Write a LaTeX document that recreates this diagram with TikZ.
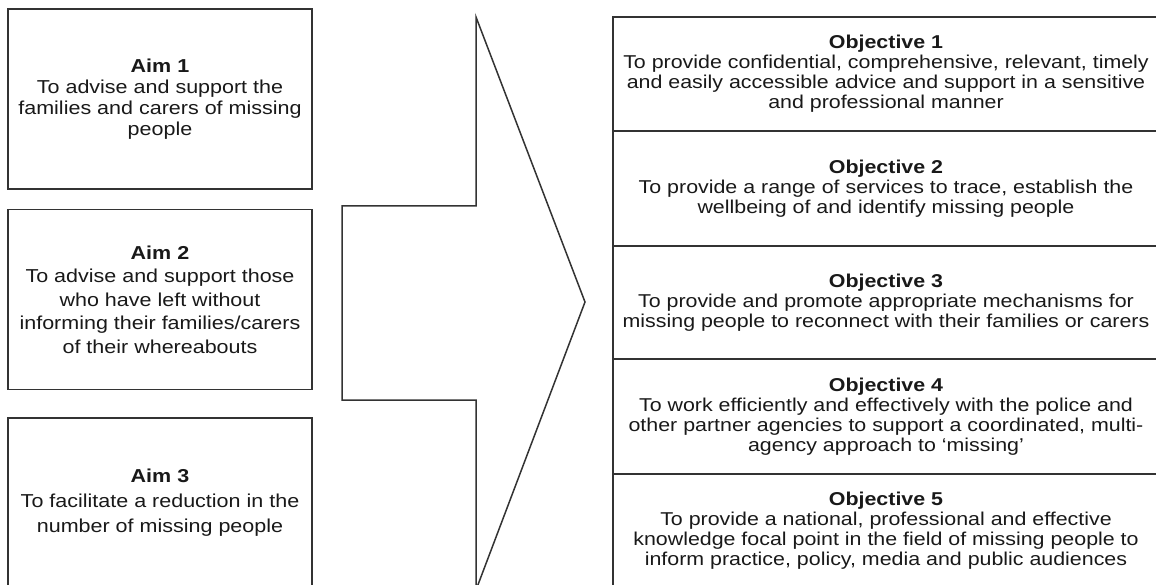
\documentclass[tikz,border=0pt]{standalone}
\usepackage{fontspec}
\setmainfont{Liberation Sans}[FakeStretch=1.15]
\begin{document}
\begin{tikzpicture}[x=1pt,y=-1pt,
  boxline/.style={draw=black!80, line width=1.5pt},
  aimbox/.style={boxline, rectangle, inner sep=0pt, minimum width=304pt, minimum height=180pt, align=center, text=black!90},
  objbox/.style={boxline, rectangle, inner sep=0pt, minimum width=546pt, align=center, text=black!90,
    font=\fontsize{18.6}{20}\selectfont},
  bigarrow/.style={boxline, line join=miter, fill=white}]
\useasboundingbox (0,0) rectangle (1156,585);
\clip (0,0) rectangle (1156,585);
\fill[white] (0,0) rectangle (1156,585);

% Aims
\node (aim1) [aimbox, font=\fontsize{18.7}{21}\selectfont] at (160,99)
  {\textbf{Aim 1}\\To advise and support the\\families and carers of missing\\people};
\node (aim2) [aimbox, font=\fontsize{18.7}{23.5}\selectfont] at (160,299.5)
  {\textbf{Aim 2}\\To advise and support those\\who have left without\\informing their families/carers\\of their whereabouts};
\node (aim3) [aimbox, minimum height=170pt, font=\fontsize{18.7}{25}\selectfont] at (160,503)
  {\textbf{Aim 3}\\To facilitate a reduction in the\\number of missing people};

% Big arrow
\coordinate (a1) at (342,206);
\coordinate (a2) at (476,206);
\coordinate (a3) at (476,17);
\coordinate (tip) at (585,302);
\coordinate (a5) at (476,590);
\coordinate (a6) at (476,400);
\coordinate (a7) at (342,400);
\draw[bigarrow] (a1) -- (a2) -- (a3) -- (tip) -- (a5) -- (a6) -- (a7) -- cycle;

% Objectives
\node (obj1) [objbox, minimum height=114pt] at (886,74)
  {\textbf{Objective 1}\\To provide confidential, comprehensive, relevant, timely\\and easily accessible advice and support in a sensitive\\and professional manner};
\node (obj2) [objbox, minimum height=115pt] at (886,188.5)
  {\textbf{Objective 2}\\To provide a range of services to trace, establish the\\wellbeing of and identify missing people};
\node (obj3) [objbox, minimum height=113pt] at (886,302.5)
  {\textbf{Objective 3}\\To provide and promote appropriate mechanisms for\\missing people to reconnect with their families or carers};
\node (obj4) [objbox, minimum height=115pt] at (886,416.5)
  {\textbf{Objective 4}\\To work efficiently and effectively with the police and\\other partner agencies to support a coordinated, multi-\\agency approach to `missing'};
\node (obj5) [objbox, minimum height=114pt] at (886,531)
  {\textbf{Objective 5}\\To provide a national, professional and effective\\knowledge focal point in the field of missing people to\\inform practice, policy, media and public audiences};
\end{tikzpicture}
\end{document}
